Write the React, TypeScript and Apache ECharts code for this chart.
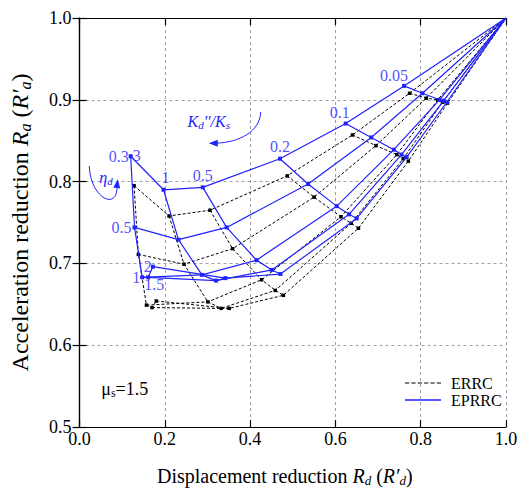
import React, { useEffect, useRef } from 'react';
import * as echarts from 'echarts';

// ---------- data ----------
const ETA_VALUES = ['0.3', '0.5', '1', '1.5', '2'];
const KD_VALUES = ['3', '1', '0.5', '0.2', '0.1', '0.05'];
const END_POINT = [1, 1];

// EPRRC: one row per eta_d curve, points at Kd''/Ks = 3, 1, 0.5, 0.2, 0.1, 0.05
const eprrcEta03 = [[0.120, 0.831], [0.197, 0.790], [0.289, 0.793], [0.470, 0.828], [0.624, 0.871], [0.761, 0.917]];
const eprrcEta05 = [[0.129, 0.744], [0.232, 0.729], [0.345, 0.744], [0.536, 0.797], [0.684, 0.854], [0.804, 0.908]];
const eprrcEta1 = [[0.147, 0.683], [0.287, 0.686], [0.415, 0.704], [0.603, 0.770], [0.737, 0.839], [0.844, 0.900]];
const eprrcEta15 = [[0.161, 0.683], [0.320, 0.679], [0.451, 0.692], [0.632, 0.760], [0.755, 0.833], [0.854, 0.899]];
const eprrcEta2 = [[0.172, 0.696], [0.342, 0.682], [0.471, 0.687], [0.650, 0.755], [0.767, 0.830], [0.861, 0.897]];

// ERRC
const errcEta03 = [[0.128, 0.795], [0.210, 0.758], [0.306, 0.765], [0.487, 0.807], [0.640, 0.857], [0.774, 0.908]];
const errcEta05 = [[0.138, 0.711], [0.245, 0.699], [0.359, 0.718], [0.550, 0.781], [0.695, 0.844], [0.813, 0.902]];
const errcEta1 = [[0.157, 0.649], [0.301, 0.653], [0.427, 0.680], [0.613, 0.757], [0.744, 0.833], [0.840, 0.900]];
const errcEta15 = [[0.170, 0.646], [0.332, 0.645], [0.459, 0.667], [0.637, 0.749], [0.759, 0.828], [0.851, 0.897]];
const errcEta2 = [[0.180, 0.654], [0.351, 0.645], [0.478, 0.661], [0.654, 0.743], [0.771, 0.825], [0.863, 0.896]];

const X_TICK_LABELS = ['0.0', '0.2', '0.4', '0.6', '0.8', '1.0'];
const Y_TICK_LABELS = ['0.5', '0.6', '0.7', '0.8', '0.9', '1.0'];

// annotation anchors (data coordinates)
const KD_TEXT_AT = [0.303, 0.874];
const KD_ARROW = [[0.425, 0.885], [0.423, 0.861], [0.374, 0.848], [0.321, 0.847]];
const KD_ARROW_TIP = [0.303, 0.847];
const ETA_TEXT_AT = [0.062, 0.805];
const ETA_ARROW = [[0.023, 0.819], [0.025, 0.780], [0.090, 0.763], [0.088, 0.795]];
const ETA_ARROW_TIP = [0.090, 0.803];
const MU_TEXT_AT = [0.051, 0.546];

// ---------- styling ----------
const FONT = 'Liberation Serif';
const BLUE = '#2222ff';

const KD_LABEL_STYLE: any[] = [
  { position: 'right', distance: 2, offset: [0, -1] },
  { position: 'top', distance: 4, offset: [2, 0] },
  { position: 'top', distance: 4, offset: [0, 0] },
  { position: 'top', distance: 4, offset: [0, 0] },
  { position: 'top', distance: 3, offset: [-6, 0] },
  { position: 'top', distance: 2, offset: [-10, 0] },
];
const ETA_LABEL_STYLE: any[] = [
  { position: 'left', distance: 2, offset: [0, 0] },
  { position: 'left', distance: 3, offset: [0, 0] },
  { position: 'left', distance: 2, offset: [0, 0] },
  { position: 'bottom', distance: 1, offset: [6, -2] },
  { position: 'left', distance: 1, offset: [0, 0] },
];

export default function App() {
  const ref = useRef<HTMLDivElement>(null);

  useEffect(() => {
    document.body.style.margin = '0';
    const chart = echarts.init(ref.current!, null, { renderer: 'svg' });

    const eprrc = [eprrcEta03, eprrcEta05, eprrcEta1, eprrcEta15, eprrcEta2];
    const errc = [errcEta03, errcEta05, errcEta1, errcEta15, errcEta2];

    const series: any[] = [];
    const addFamily = (rows: number[][][], name: string, color: string, dashed: boolean, z: number) => {
      const lineStyle = { color, width: dashed ? 1 : 1.2, type: dashed ? [3, 2] : 'solid' };
      rows.forEach((row) => {
        series.push({
          type: 'line', name, z,
          data: [...row.map((p) => p), { value: END_POINT, symbol: 'none' }],
          symbol: 'rect', symbolSize: dashed ? 3.5 : 4,
          itemStyle: { color },
          lineStyle, silent: true,
        });
      });
      KD_VALUES.forEach((_, j) => {
        series.push({
          type: 'line', name, z,
          data: rows.map((r) => r[j]),
          symbol: 'none', itemStyle: { color }, lineStyle, silent: true,
        });
      });
    };
    addFamily(errc, 'ERRC', '#000000', true, 2);
    addFamily(eprrc, 'EPRRC', BLUE, false, 3);

    const labelBase = { show: true, color: BLUE, fontFamily: FONT, fontSize: 16 };
    series.push({
      type: 'scatter', symbolSize: 0, silent: true, z: 5,
      data: KD_VALUES.map((k, j) => ({
        value: eprrc[0][j],
        label: { ...labelBase, formatter: k, ...KD_LABEL_STYLE[j] },
      })),
    });
    series.push({
      type: 'scatter', symbolSize: 0, silent: true, z: 5,
      data: ETA_VALUES.map((e, i) => ({
        value: eprrc[i][0],
        label: { ...labelBase, formatter: e, ...ETA_LABEL_STYLE[i] },
      })),
    });

    const axisCommon = {
      min: 0, max: 1, interval: 0.2,
      axisLine: { lineStyle: { color: '#000', width: 1.2 } },
      axisTick: { inside: true, length: 7, lineStyle: { color: '#000', width: 1.2 } },
    };
    const yCommon = {
      min: 0.5, max: 1, interval: 0.1,
      axisLine: { lineStyle: { color: '#000', width: 1.2 } },
      axisTick: { inside: true, length: 7, lineStyle: { color: '#000', width: 1.2 } },
    };
    const richName = (size: number) => ({
      i: { fontStyle: 'italic', fontSize: size, fontFamily: FONT, color: '#000' },
      sub: { fontStyle: 'italic', fontSize: Math.round(size * 0.65), fontFamily: FONT, color: '#000', padding: [Math.round(size * 0.45), 0, 0, 0] },
    });

    const dashedIcon = 'path://M0,0h4v1h-4zM6,0h4v1h-4zM12,0h4v1h-4zM18,0h4v1h-4zM24,0h4v1h-4zM30,0h4v1h-4z';

    chart.setOption({
      animation: false,
      textStyle: { fontFamily: FONT },
      grid: { left: 73, right: 15, top: 18, bottom: 65 },
      legend: {
        data: [{ name: 'ERRC', icon: dashedIcon }, { name: 'EPRRC', icon: 'rect' }],
        orient: 'vertical', left: 400, top: 370, itemGap: 1,
        itemWidth: 36, itemHeight: 1.3,
        itemStyle: { borderWidth: 0 },
        textStyle: { fontFamily: FONT, fontSize: 16, color: '#000', padding: [0, 0, 0, 5] },
        selectedMode: false,
      },
      xAxis: [
        {
          type: 'value', position: 'bottom', ...axisCommon,
          axisLabel: { fontFamily: FONT, fontSize: 18, color: '#000', margin: 3, formatter: (v: number) => X_TICK_LABELS[Math.round(v / 0.2)] },
          splitLine: { show: true, lineStyle: { color: '#888', width: 0.8, type: [3, 3] } },
          name: 'Displacement reduction {i|R}{sub|d} ({i|R′}{sub|d})',
          nameLocation: 'middle', nameGap: 38,
          nameTextStyle: { fontFamily: FONT, fontSize: 20, color: '#000', padding: [0, 16, 0, 0], rich: richName(20) },
        },
        { type: 'value', position: 'top', ...axisCommon, axisLabel: { show: false }, splitLine: { show: false } },
      ],
      yAxis: [
        {
          type: 'value', position: 'left', ...yCommon,
          axisLabel: { fontFamily: FONT, fontSize: 18, color: '#000', margin: 8, formatter: (v: number) => Y_TICK_LABELS[Math.round((v - 0.5) / 0.1)] },
          splitLine: { show: true, lineStyle: { color: '#888', width: 0.8, type: [3, 3] } },
          name: 'Acceleration reduction {i|R}{sub|a} ({i|R′}{sub|a})',
          nameLocation: 'middle', nameGap: 46, nameRotate: 90,
          nameTextStyle: { fontFamily: FONT, fontSize: 24, color: '#000', rich: richName(24) },
        },
        { type: 'value', position: 'right', ...yCommon, axisLabel: { show: false }, splitLine: { show: false } },
      ],
      series,
    });

    // annotations positioned through the axes
    const px = (p: number[]) => chart.convertToPixel({ gridIndex: 0 }, p) as number[];
    const arrowHead = (tipD: number[], fromD: number[], color: string) => {
      const tip = px(tipD); const from = px(fromD);
      const dx = tip[0] - from[0]; const dy = tip[1] - from[1];
      const len = Math.hypot(dx, dy) || 1; const ux = dx / len; const uy = dy / len;
      const L = 9; const W = 3.5;
      const bx = tip[0] - ux * L; const by = tip[1] - uy * L;
      return {
        type: 'polygon', silent: true,
        shape: { points: [tip, [bx - uy * W, by + ux * W], [bx + uy * W, by - ux * W]] },
        style: { fill: color },
      };
    };
    const curve = (pts: number[][], color: string) => {
      const [a, b, c, d] = pts.map(px);
      return {
        type: 'bezierCurve', silent: true,
        shape: { x1: a[0], y1: a[1], cpx1: b[0], cpy1: b[1], cpx2: c[0], cpy2: c[1], x2: d[0], y2: d[1] },
        style: { stroke: color, lineWidth: 1, fill: null },
      };
    };
    const kdT = px(KD_TEXT_AT);
    const etaT = px(ETA_TEXT_AT);
    const muT = px(MU_TEXT_AT);
    chart.setOption({
      graphic: [
        curve(KD_ARROW, BLUE),
        arrowHead(KD_ARROW_TIP, KD_ARROW[3], BLUE),
        curve(ETA_ARROW, BLUE),
        arrowHead(ETA_ARROW_TIP, ETA_ARROW[3], BLUE),
        {
          type: 'text', x: kdT[0], y: kdT[1], silent: true,
          style: {
            text: "{i|K}{s|d}{i|''/K}{s|s}", align: 'center', verticalAlign: 'middle',
            rich: {
              i: { fontFamily: FONT, fontSize: 16, fontStyle: 'italic', fill: BLUE },
              s: { fontFamily: FONT, fontSize: 11, fontStyle: 'italic', fill: BLUE, padding: [7, 0, 0, 0] },
            },
          },
        },
        {
          type: 'text', x: etaT[0], y: etaT[1], silent: true,
          style: {
            text: '{i|η}{s|d}', align: 'center', verticalAlign: 'middle',
            rich: {
              i: { fontFamily: FONT, fontSize: 16, fontStyle: 'italic', fill: BLUE },
              s: { fontFamily: FONT, fontSize: 11, fontStyle: 'italic', fill: BLUE, padding: [7, 0, 0, 0] },
            },
          },
        },
        {
          type: 'text', x: muT[0], y: muT[1], silent: true,
          style: {
            text: '{m|μ}{s|s}{m|=1.5}', align: 'left', verticalAlign: 'middle',
            rich: {
              m: { fontFamily: FONT, fontSize: 18, fill: '#000' },
              s: { fontFamily: FONT, fontSize: 12, fill: '#000', padding: [8, 0, 0, 0] },
            },
          },
        },
      ],
    });

    return () => chart.dispose();
  }, []);

  return <div ref={ref} style={{ width: 521, height: 492 }} />;
}
